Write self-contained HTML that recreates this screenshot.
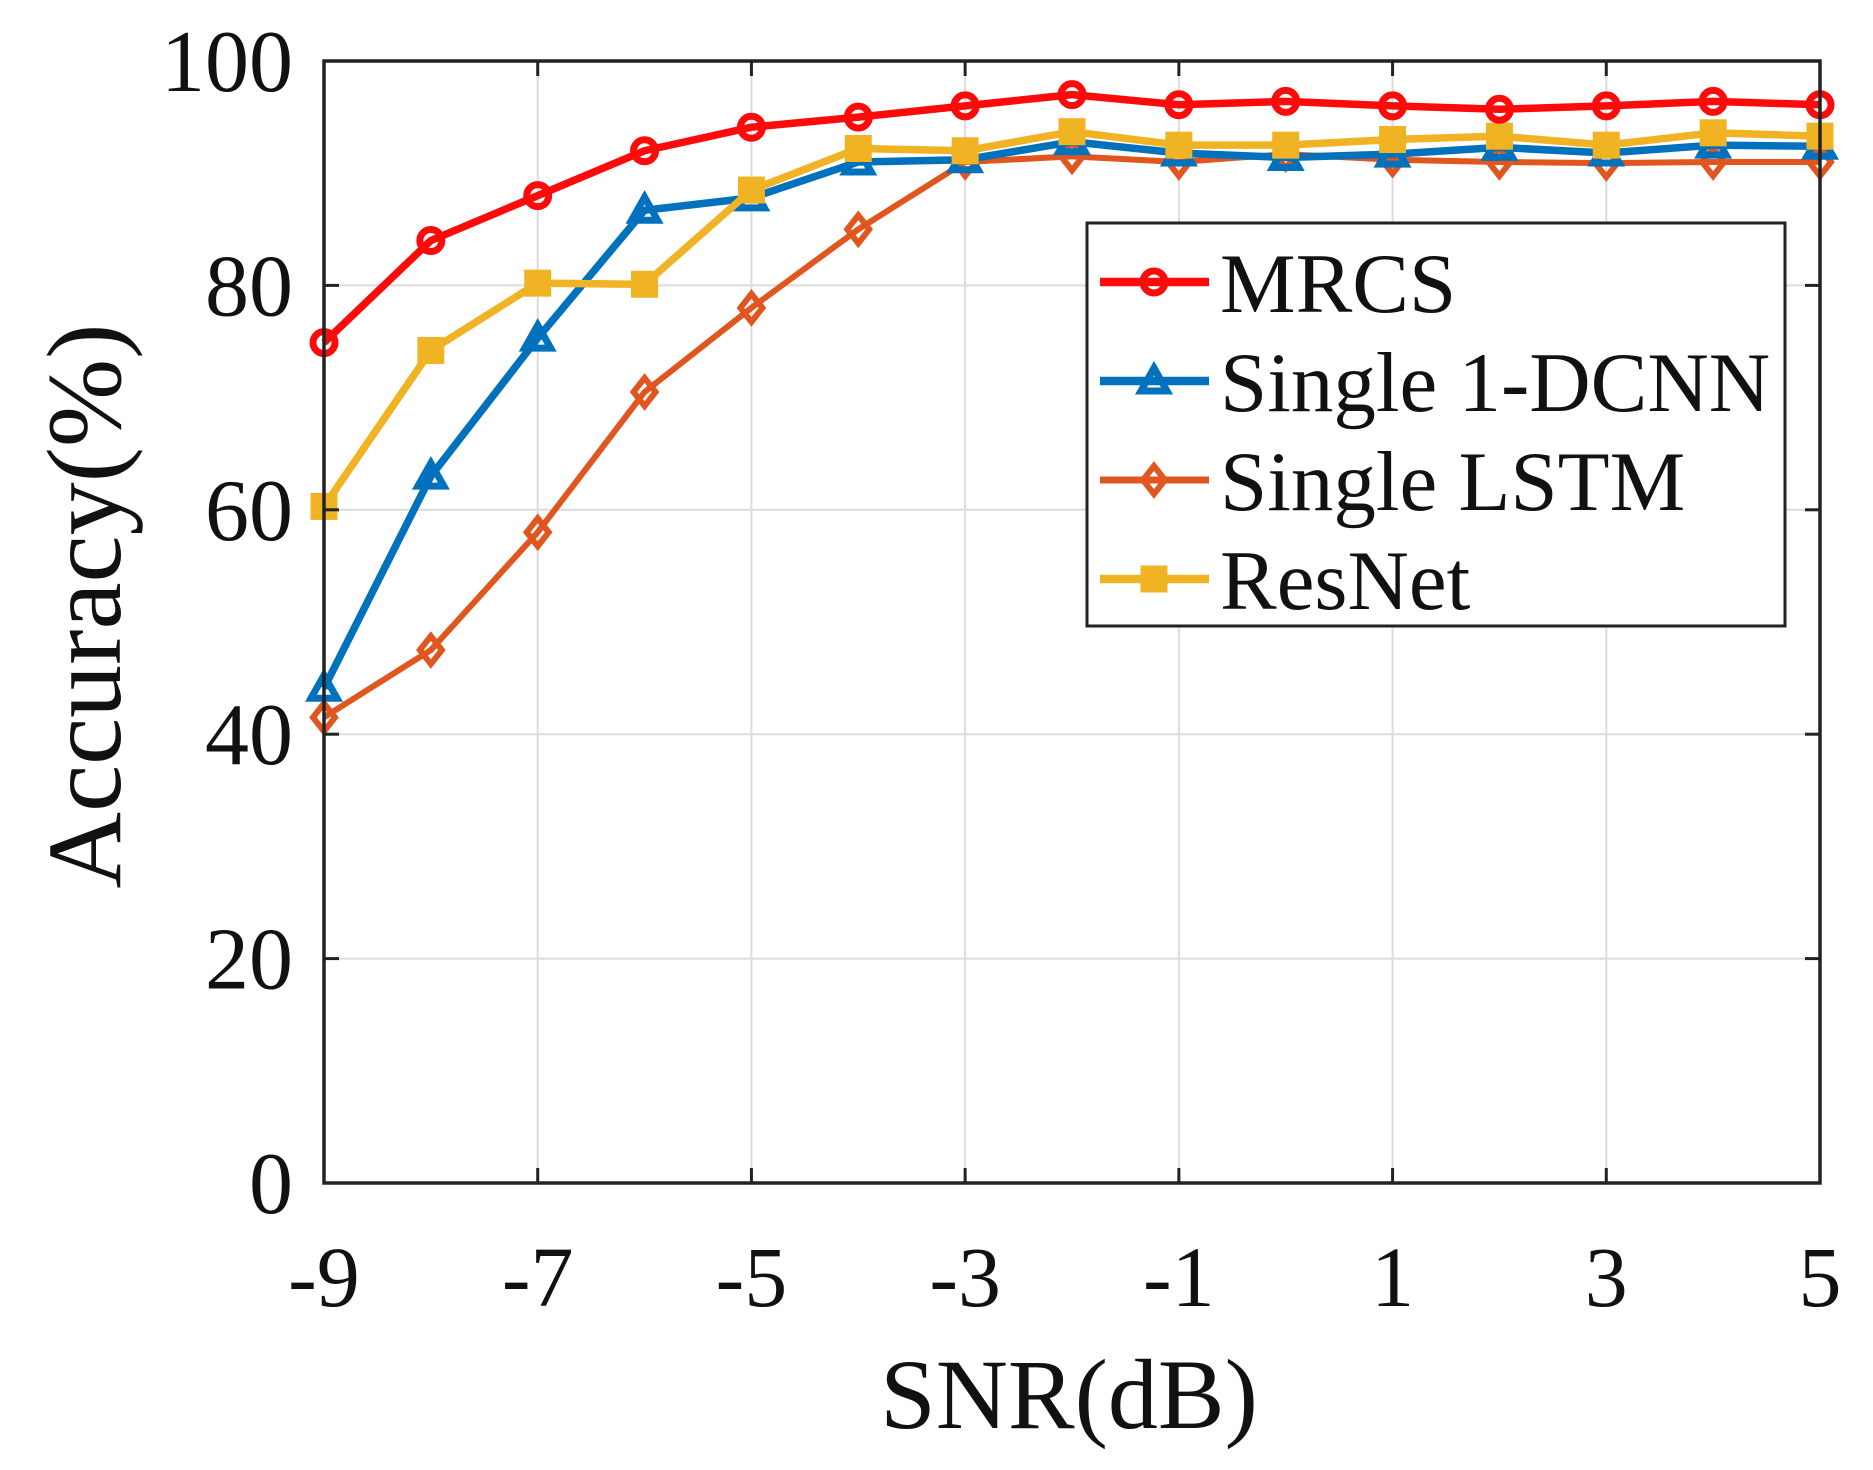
<!DOCTYPE html>
<html><head><meta charset="utf-8"><style>
html,body{margin:0;padding:0;background:#fff;}
svg{display:block;font-family:"Liberation Serif",serif;}
</style></head><body>
<svg id="chart" width="1873" height="1470" viewBox="0 0 1873 1470" xmlns="http://www.w3.org/2000/svg">
<g id="grid"></g>
<g id="series"></g>
<g id="axes"></g>
<g id="legend"></g>
</svg>
<script>
const snr = [-9,-8,-7,-6,-5,-4,-3,-2,-1,0,1,2,3,4,5];
const mrcs = [74.9,84,88,92,94.1,95,96,97,96.1,96.4,96,95.7,96,96.4,96.1];
const dcnn = [44.1,63,75.3,86.7,87.8,91,91.2,92.8,91.8,91.4,91.7,92.3,91.8,92.5,92.4];
const lstm = [41.5,47.5,58,70.5,78,85,91,91.5,91,91.7,91.2,91,90.9,91,91];
const resnet = [60.3,74.2,80.2,80.1,88.5,92.2,92,93.7,92.5,92.5,93,93.3,92.5,93.6,93.3];
const xTicks = [-9,-7,-5,-3,-1,1,3,5];
const yTicks = [0,20,40,60,80,100];
const seriesNames = ["MRCS","Single 1-DCNN","Single LSTM","ResNet"];

const NS="http://www.w3.org/2000/svg";
const L=324,R=1820,T=61,B=1183;
const xs=v=>L+(v-(-9))/14*(R-L);
const ys=v=>B-v/100*(B-T);
function mk(tag,attrs,parent){const e=document.createElementNS(NS,tag);for(const k in attrs)e.setAttribute(k,attrs[k]);parent.appendChild(e);return e;}
const grid=document.getElementById('grid'),axes=document.getElementById('axes'),ser=document.getElementById('series'),leg=document.getElementById('legend');

xTicks.forEach(t=>{
  const g=mk('line',{x1:xs(t),x2:xs(t),y1:T,y2:B,stroke:'#dcdcdc','stroke-width':2},grid);
  
  
  mk('line',{x1:xs(t),x2:xs(t),y1:B,y2:B-15,stroke:'#222','stroke-width':3},axes);
  mk('line',{x1:xs(t),x2:xs(t),y1:T,y2:T+15,stroke:'#222','stroke-width':3},axes);
  const tx=mk('text',{x:xs(t),y:1306,'font-size':86,'text-anchor':'middle',fill:'#111'},axes);
  tx.textContent=t;
  
  
});
yTicks.forEach(t=>{
  const g=mk('line',{x1:L,x2:R,y1:ys(t),y2:ys(t),stroke:'#dcdcdc','stroke-width':2},grid);
  
  
  mk('line',{x1:L,x2:L+15,y1:ys(t),y2:ys(t),stroke:'#222','stroke-width':3},axes);
  mk('line',{x1:R,x2:R-15,y1:ys(t),y2:ys(t),stroke:'#222','stroke-width':3},axes);
  const tx=mk('text',{x:293,y:ys(t)+30,'font-size':88,'text-anchor':'end',fill:'#111'},axes);
  tx.textContent=t;
  
  
});
const box=mk('rect',{x:L,y:T,width:R-L,height:B-T,fill:'none',stroke:'#222','stroke-width':3.5},axes);


const xl=mk('text',{x:1069,y:1428,'font-size':100,'text-anchor':'middle',fill:'#111'},axes);
xl.textContent='SNR(dB)';


const yl=mk('text',{x:0,y:0,'font-size':106,'text-anchor':'middle',fill:'#111',transform:'translate(120,606) rotate(-90)'},axes);
yl.textContent='Accuracy(%)';



function marker(type,x,y,color,parent){
  let e;
  if(type==='circle') e=mk('circle',{cx:x,cy:y,r:11,fill:'none',stroke:color,'stroke-width':7},parent);
  else if(type==='tri') e=mk('polygon',{points:`${x},${y-13} ${x+13},${y+10} ${x-13},${y+10}`,fill:'none',stroke:color,'stroke-width':7},parent);
  else if(type==='diamond') e=mk('polygon',{points:`${x},${y-14} ${x+11},${y} ${x},${y+14} ${x-11},${y}`,fill:'none',stroke:color,'stroke-width':6},parent);
  else e=mk('rect',{x:x-12,y:y-12,width:24,height:24,fill:color,stroke:color,'stroke-width':3},parent);
  return e;
}
const defs=[
  {vals:lstm,color:'#e0561e',m:'diamond',w:6,name:'lstm'},
  {vals:dcnn,color:'#0072bd',m:'tri',w:7.5,name:'dcnn'},
  {vals:resnet,color:'#f0b323',m:'square',w:7.5,name:'resnet'},
  {vals:mrcs,color:'#ff0a0a',m:'circle',w:7.5,name:'mrcs'}
];
defs.forEach(d=>{
  const g=mk('g',{},ser);
  
  
  const pts=d.vals.map((v,i)=>xs(snr[i])+','+ys(v)).join(' ');
  const pl=mk('polyline',{points:pts,fill:'none',stroke:d.color,'stroke-width':d.w,'stroke-linejoin':'round'},g);
  
  
  d.vals.forEach((v,i)=>{
    const m=marker(d.m,xs(snr[i]),ys(v),d.color,g);
    
    
  });
});

const lb=mk('rect',{x:1087,y:223,width:698,height:403,fill:'#fff',stroke:'#222','stroke-width':3},leg);


const legOrder=[defs[3],defs[1],defs[0],defs[2]];
legOrder.forEach((d,i)=>{
  const cy=282+i*99;
  const g=mk('g',{},leg);
  
  
  mk('line',{x1:1100,x2:1209,y1:cy,y2:cy,stroke:d.color,'stroke-width':d.w+1},g);
  marker(d.m,1154,cy,d.color,g);
  const t=mk('text',{x:1220,y:cy+30,'font-size':85,fill:'#111'},g);
  t.textContent=seriesNames[i];
});
</script>
</body></html>
